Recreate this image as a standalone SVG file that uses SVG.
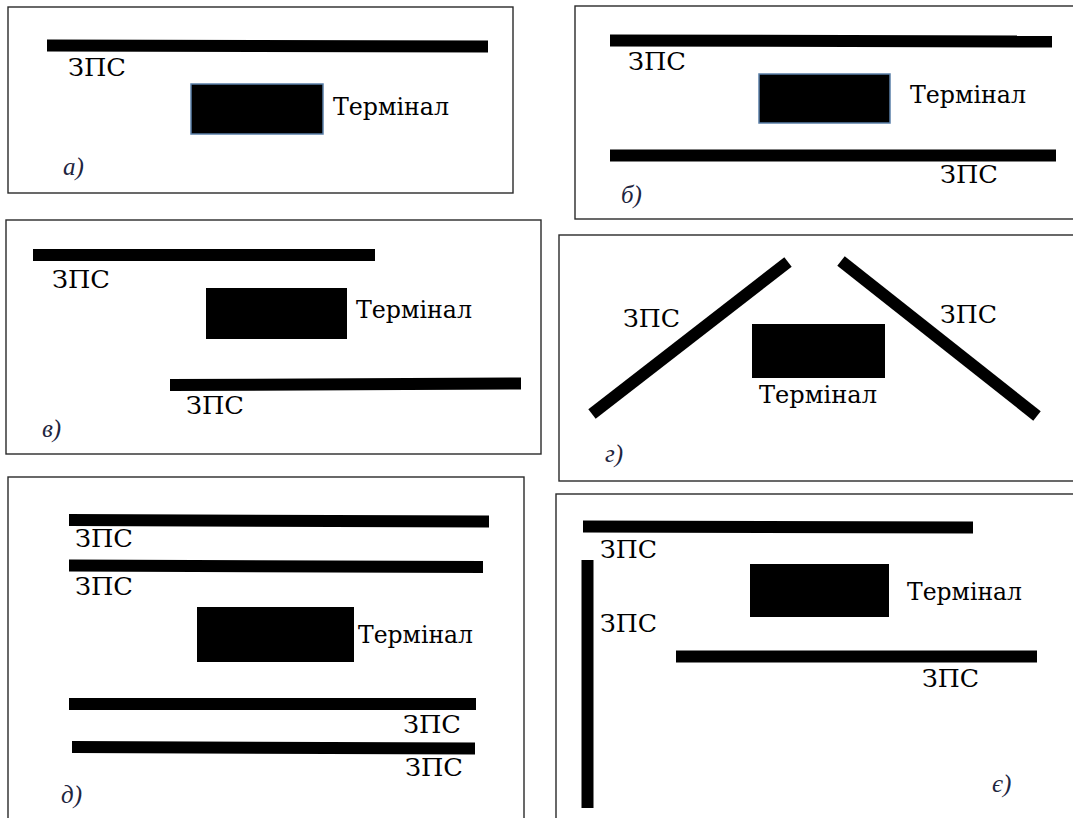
<svg xmlns="http://www.w3.org/2000/svg" width="1073" height="818" viewBox="0 0 1073 818">
<style>
.frame{fill:#fff;stroke:#2a2a2a;stroke-width:1.4}
.bar{stroke:#000;stroke-width:12;fill:none}
.term{fill:#000}
.termb{fill:#000;stroke:#5a7fa8;stroke-width:1.5}
.lbl{font-family:"DejaVu Serif","Liberation Serif",serif;font-size:25px;fill:#000}
.cap{font-family:"Liberation Serif","DejaVu Serif",serif;font-style:italic;font-size:25px;fill:#1e2540}
</style>
<rect x="0" y="0" width="1073" height="818" fill="#fff"/>

<g id="panel-a">
<rect class="frame" x="8" y="7" width="505" height="186"/>
<g id="a-zps"><line class="bar" x1="47" y1="45.5" x2="488" y2="46.5"/><text class="lbl" x="68" y="76" textLength="58" lengthAdjust="spacingAndGlyphs">ЗПС</text></g>
<g id="a-term"><rect class="termb" x="191" y="84" width="132" height="50"/><text class="lbl" x="333" y="115" textLength="116" lengthAdjust="spacingAndGlyphs">Термінал</text></g>
<text class="cap" x="63" y="175">а)</text>
</g>

<g id="panel-b">
<rect class="frame" x="575" y="6" width="520" height="213"/>
<g id="b-zps1"><line class="bar" x1="610" y1="40.5" x2="1052" y2="41.5"/><text class="lbl" x="628" y="70" textLength="58" lengthAdjust="spacingAndGlyphs">ЗПС</text></g>
<g id="b-term"><rect class="termb" x="759" y="74" width="131" height="49"/><text class="lbl" x="910" y="103" textLength="116" lengthAdjust="spacingAndGlyphs">Термінал</text></g>
<g id="b-zps2"><line class="bar" x1="610" y1="155.5" x2="1056" y2="155.5"/><text class="lbl" x="940" y="183" textLength="58" lengthAdjust="spacingAndGlyphs">ЗПС</text></g>
<text class="cap" x="621" y="203">б)</text>
</g>

<g id="panel-v">
<rect class="frame" x="6" y="220" width="535" height="234"/>
<g id="v-zps1"><line class="bar" x1="33" y1="255" x2="375" y2="255"/><text class="lbl" x="52" y="288" textLength="58" lengthAdjust="spacingAndGlyphs">ЗПС</text></g>
<g id="v-term"><rect class="term" x="206" y="288" width="141" height="51"/><text class="lbl" x="356" y="318" textLength="116" lengthAdjust="spacingAndGlyphs">Термінал</text></g>
<g id="v-zps2"><line class="bar" x1="170" y1="385" x2="521" y2="383.5"/><text class="lbl" x="186" y="414" textLength="58" lengthAdjust="spacingAndGlyphs">ЗПС</text></g>
<text class="cap" x="42" y="437">в)</text>
</g>

<g id="panel-g">
<rect class="frame" x="559" y="235" width="540" height="246"/>
<g id="g-zps1"><line class="bar" x1="592" y1="414" x2="788" y2="262" stroke-width="11"/><text class="lbl" x="623" y="327" textLength="57" lengthAdjust="spacingAndGlyphs">ЗПС</text></g>
<g id="g-zps2"><line class="bar" x1="841" y1="261" x2="1037" y2="416" stroke-width="11"/><text class="lbl" x="940" y="323" textLength="57" lengthAdjust="spacingAndGlyphs">ЗПС</text></g>
<g id="g-term"><rect class="term" x="752" y="324" width="133" height="54"/><text class="lbl" x="759" y="403" textLength="118" lengthAdjust="spacingAndGlyphs">Термінал</text></g>
<text class="cap" x="605" y="462">г)</text>
</g>

<g id="panel-d">
<rect class="frame" x="8" y="477" width="516" height="360"/>
<g id="d-zps1"><line class="bar" x1="69" y1="520" x2="489" y2="521.5"/><text class="lbl" x="75" y="547" textLength="58" lengthAdjust="spacingAndGlyphs">ЗПС</text></g>
<g id="d-zps2"><line class="bar" x1="69" y1="565.5" x2="483" y2="567"/><text class="lbl" x="75" y="595" textLength="58" lengthAdjust="spacingAndGlyphs">ЗПС</text></g>
<g id="d-term"><rect class="term" x="197" y="607" width="157" height="55"/><text class="lbl" x="358" y="643" textLength="115" lengthAdjust="spacingAndGlyphs">Термінал</text></g>
<g id="d-zps3"><line class="bar" x1="69" y1="704" x2="476" y2="704"/><text class="lbl" x="403" y="733" textLength="58" lengthAdjust="spacingAndGlyphs">ЗПС</text></g>
<g id="d-zps4"><line class="bar" x1="72" y1="747" x2="475" y2="748.5"/><text class="lbl" x="405" y="776" textLength="58" lengthAdjust="spacingAndGlyphs">ЗПС</text></g>
<text class="cap" x="61" y="803">д)</text>
</g>

<g id="panel-ye">
<rect class="frame" x="556" y="494" width="540" height="340"/>
<g id="ye-zps1"><line class="bar" x1="583" y1="526.5" x2="973" y2="527.5"/><text class="lbl" x="600" y="558" textLength="57" lengthAdjust="spacingAndGlyphs">ЗПС</text></g>
<g id="ye-zps2"><line class="bar" x1="587.5" y1="560" x2="587.5" y2="808" stroke-width="13"/><text class="lbl" x="600" y="632" textLength="57" lengthAdjust="spacingAndGlyphs">ЗПС</text></g>
<g id="ye-term"><rect class="term" x="750" y="564" width="139" height="53"/><text class="lbl" x="907" y="600" textLength="115" lengthAdjust="spacingAndGlyphs">Термінал</text></g>
<g id="ye-zps3"><line class="bar" x1="676" y1="656.5" x2="1037" y2="656.5"/><text class="lbl" x="922" y="687" textLength="57" lengthAdjust="spacingAndGlyphs">ЗПС</text></g>
<text class="cap" x="992" y="792">є)</text>
</g>

<g id="connectors"></g>
</svg>
